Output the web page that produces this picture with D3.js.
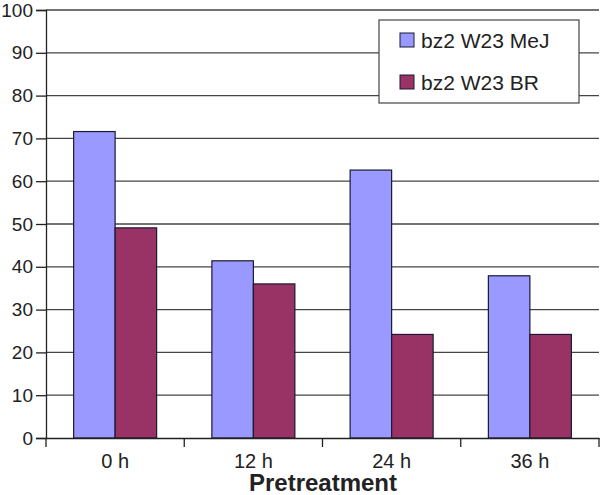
<!DOCTYPE html>
<html lang="en">
<head>
<meta charset="UTF-8">
<title>Pretreatment</title>
<script src="https://cdnjs.cloudflare.com/ajax/libs/d3/7.8.5/d3.min.js"></script>
<style>
  body { margin: 0; background: #fff; }
  text { font-family: "Liberation Sans", Arial, sans-serif; fill: #222; }
</style>
</head>
<body>
<svg width="600" height="495"></svg>
<script>
// data
const categories = ["0 h", "12 h", "24 h", "36 h"];
const seriesNames = ["bz2 W23 MeJ", "bz2 W23 BR"];
const mejValues = [71.6, 41.4, 62.6, 37.9];
const brValues = [49.1, 36.0, 24.2, 24.2];
const yTicks = [0, 10, 20, 30, 40, 50, 60, 70, 80, 90, 100];
const colors = ["#9999ff", "#993366"];

var svg = d3.select("svg");
var margin = {left: 46, right: 1, top: 10, bottom: 57};
var width = 600 - margin.left - margin.right,
    height = 495 - margin.top - margin.bottom;

var g = svg.append("g")
    .attr("transform", "translate(" + margin.left + "," + margin.top + ")");

var x = d3.scaleBand().domain(categories).range([0, width]);
var x1 = d3.scaleBand().domain([0, 1]).range([0, 83]);
var y = d3.scaleLinear().domain([0, 100]).range([height, 0]);

// gridlines
g.append("g")
  .selectAll("line")
  .data(yTicks.filter(d => d > 0))
  .enter().append("line")
    .attr("x1", 0).attr("x2", width)
    .attr("y1", d => y(d)).attr("y2", d => y(d))
    .attr("stroke", "#444").attr("stroke-width", 1.3);

// bars
var series = [mejValues, brValues];
series.forEach(function(vals, i) {
  g.append("g").selectAll("rect")
    .data(vals)
    .enter().append("rect")
      .attr("x", (d, j) => x(categories[j]) + (x.bandwidth() - 83) / 2 + x1(i))
      .attr("width", x1.bandwidth())
      .attr("y", d => y(d))
      .attr("height", d => height - y(d))
      .attr("fill", colors[i])
      .attr("stroke", "#1a1a33")
      .attr("stroke-width", 1.2);
});

// y axis
var yAxis = g.append("g")
  .call(d3.axisLeft(y).tickValues(yTicks).tickSize(10).tickPadding(3));
yAxis.select(".domain").attr("stroke", "#222").attr("stroke-width", 1.3);
yAxis.selectAll(".tick line").attr("stroke", "#222").attr("stroke-width", 1.3);
yAxis.selectAll("text").attr("font-size", "19px").attr("fill", "#222");

// x axis
var xAxis = g.append("g")
  .attr("transform", "translate(0," + height + ")")
  .call(d3.axisBottom(x).tickSize(0).tickPadding(16));
xAxis.select(".domain").attr("stroke", "#222").attr("stroke-width", 1.3);
xAxis.selectAll("text").attr("font-size", "20px").attr("fill", "#222");
// category separator ticks
xAxis.append("g").selectAll("line")
  .data(d3.range(categories.length + 1))
  .enter().append("line")
    .attr("x1", d => d * x.step()).attr("x2", d => d * x.step())
    .attr("y1", 0).attr("y2", 9)
    .attr("stroke", "#222").attr("stroke-width", 1.3);

svg.append("text")
  .attr("x", 323).attr("y", 491)
  .attr("text-anchor", "middle")
  .attr("font-size", "24px")
  .attr("font-weight", "bold")
  .text("Pretreatment");

// legend
var legend = svg.append("g").attr("transform", "translate(379,20)");
legend.append("rect")
  .attr("width", 200).attr("height", 83)
  .attr("fill", "#fff").attr("stroke", "#444").attr("stroke-width", 1.2);
seriesNames.forEach(function(name, i) {
  var row = legend.append("g").attr("transform", "translate(21," + (13 + i * 42) + ")");
  row.append("rect")
    .attr("width", 14).attr("height", 14)
    .attr("fill", colors[i]).attr("stroke", "#1a1a33");
  row.append("text")
    .attr("x", 21).attr("y", 15)
    .attr("font-size", "21px")
    .text(name);
});
</script>
</body>
</html>
